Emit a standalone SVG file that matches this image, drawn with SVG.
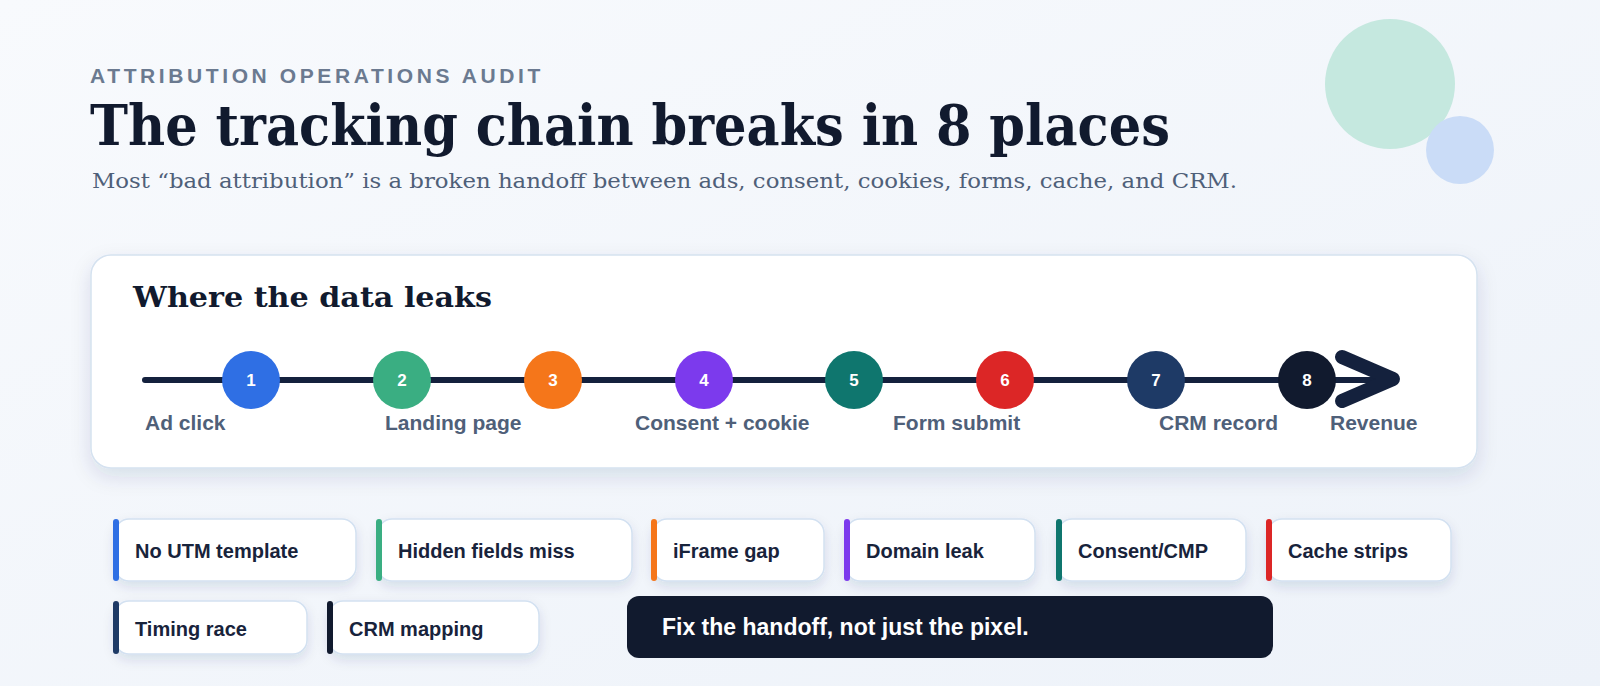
<svg xmlns="http://www.w3.org/2000/svg" width="1600" height="686" viewBox="0 0 1600 686">
<defs>
<linearGradient id="bg" x1="0" y1="0" x2="1" y2="1"><stop offset="0" stop-color="#f8fafd"/><stop offset="1" stop-color="#edf2f9"/></linearGradient>
<filter id="sh" x="-10%" y="-20%" width="120%" height="150%"><feDropShadow dx="0" dy="8" stdDeviation="10" flood-color="#1e3a5f" flood-opacity="0.12"/></filter>
<filter id="sh2" x="-10%" y="-20%" width="120%" height="160%"><feDropShadow dx="0" dy="5" stdDeviation="6" flood-color="#1e3a5f" flood-opacity="0.12"/></filter>
</defs>
<style>
.sans{font-family:"Liberation Sans",Arial,sans-serif}
.serif{font-family:"DejaVu Serif","Liberation Serif",serif}
.num{font-family:"Liberation Sans",Arial,sans-serif;font-weight:700;font-size:17px;fill:#fff;text-anchor:middle}
.lbl{font-family:"Liberation Sans",Arial,sans-serif;font-weight:700;font-size:21px;fill:#4f6079}
.chip rect.b{fill:#fff;stroke:#d3e1f1;stroke-width:1.5}
.chip text{font-family:"Liberation Sans",Arial,sans-serif;font-weight:700;font-size:20px;fill:#18233b}
</style>
<rect width="1600" height="686" fill="url(#bg)"/>
<circle cx="1390" cy="84" r="65" fill="#c5e8df"/>
<circle cx="1460" cy="150" r="34" fill="#cadcf7"/>
<text x="90" y="83" class="sans" font-weight="700" font-size="21" letter-spacing="3.6" fill="#6b7a90">ATTRIBUTION OPERATIONS AUDIT</text>
<text x="90" y="145" class="serif" font-weight="700" font-size="56" textLength="1080" lengthAdjust="spacingAndGlyphs" fill="#111a2e">The tracking chain breaks in 8 places</text>
<text x="92" y="188" class="serif" font-size="21" textLength="1145" lengthAdjust="spacingAndGlyphs" fill="#4f6079">Most “bad attribution” is a broken handoff between ads, consent, cookies, forms, cache, and CRM.</text>
<g id="card">
<rect x="91" y="255" width="1386" height="213" rx="20" fill="#fff" stroke="#d5e2f0" stroke-width="1.5" filter="url(#sh)"/>
<text x="133" y="307" class="serif" font-weight="700" font-size="28" textLength="359" lengthAdjust="spacingAndGlyphs" fill="#111a2e">Where the data leaks</text>
</g>
<g id="connectors">
<line x1="145" y1="380" x2="1390" y2="380" stroke="#14213d" stroke-width="6" stroke-linecap="round"/>
<polyline points="1342,357 1393,379 1342,401" fill="none" stroke="#14213d" stroke-width="14" stroke-linecap="round" stroke-linejoin="round"/>
</g>
<g id="n1"><circle cx="251" cy="380" r="29" fill="#2f6fe4"/><text x="251" y="386" class="num">1</text></g>
<g id="n2"><circle cx="402" cy="380" r="29" fill="#3aae82"/><text x="402" y="386" class="num">2</text></g>
<g id="n3"><circle cx="553" cy="380" r="29" fill="#f5761a"/><text x="553" y="386" class="num">3</text></g>
<g id="n4"><circle cx="704" cy="380" r="29" fill="#7c3aed"/><text x="704" y="386" class="num">4</text></g>
<g id="n5"><circle cx="854" cy="380" r="29" fill="#0f766e"/><text x="854" y="386" class="num">5</text></g>
<g id="n6"><circle cx="1005" cy="380" r="29" fill="#dc2626"/><text x="1005" y="386" class="num">6</text></g>
<g id="n7"><circle cx="1156" cy="380" r="29" fill="#1e3a66"/><text x="1156" y="386" class="num">7</text></g>
<g id="n8"><circle cx="1307" cy="380" r="29" fill="#111a2e"/><text x="1307" y="386" class="num">8</text></g>
<g id="labels">
<text x="145" y="430" class="lbl">Ad click</text>
<text x="385" y="430" class="lbl">Landing page</text>
<text x="635" y="430" class="lbl">Consent + cookie</text>
<text x="893" y="430" class="lbl">Form submit</text>
<text x="1159" y="430" class="lbl">CRM record</text>
<text x="1330" y="430" class="lbl">Revenue</text>
</g>
<g id="c1" class="chip"><rect class="b" x="115" y="519" width="241" height="62" rx="14" filter="url(#sh2)"/><rect x="113" y="519" width="6" height="62" rx="3" fill="#2f6fe4"/><text x="135" y="558">No UTM template</text></g>
<g id="c2" class="chip"><rect class="b" x="378" y="519" width="254" height="62" rx="14" filter="url(#sh2)"/><rect x="376" y="519" width="6" height="62" rx="3" fill="#3aae82"/><text x="398" y="558">Hidden fields miss</text></g>
<g id="c3" class="chip"><rect class="b" x="653" y="519" width="171" height="62" rx="14" filter="url(#sh2)"/><rect x="651" y="519" width="6" height="62" rx="3" fill="#f5761a"/><text x="673" y="558">iFrame gap</text></g>
<g id="c4" class="chip"><rect class="b" x="846" y="519" width="189" height="62" rx="14" filter="url(#sh2)"/><rect x="844" y="519" width="6" height="62" rx="3" fill="#7c3aed"/><text x="866" y="558">Domain leak</text></g>
<g id="c5" class="chip"><rect class="b" x="1058" y="519" width="188" height="62" rx="14" filter="url(#sh2)"/><rect x="1056" y="519" width="6" height="62" rx="3" fill="#0f766e"/><text x="1078" y="558">Consent/CMP</text></g>
<g id="c6" class="chip"><rect class="b" x="1268" y="519" width="183" height="62" rx="14" filter="url(#sh2)"/><rect x="1266" y="519" width="6" height="62" rx="3" fill="#dc2626"/><text x="1288" y="558">Cache strips</text></g>
<g id="c7" class="chip"><rect class="b" x="115" y="601" width="192" height="53" rx="14" filter="url(#sh2)"/><rect x="113" y="601" width="6" height="53" rx="3" fill="#1e3a66"/><text x="135" y="636">Timing race</text></g>
<g id="c8" class="chip"><rect class="b" x="329" y="601" width="210" height="53" rx="14" filter="url(#sh2)"/><rect x="327" y="601" width="6" height="53" rx="3" fill="#111a2e"/><text x="349" y="636">CRM mapping</text></g>
<g id="callout"><rect x="627" y="596" width="646" height="62" rx="12" fill="#111a2e"/><text x="662" y="635" class="sans" font-weight="700" font-size="23" fill="#fff">Fix the handoff, not just the pixel.</text></g>
</svg>
